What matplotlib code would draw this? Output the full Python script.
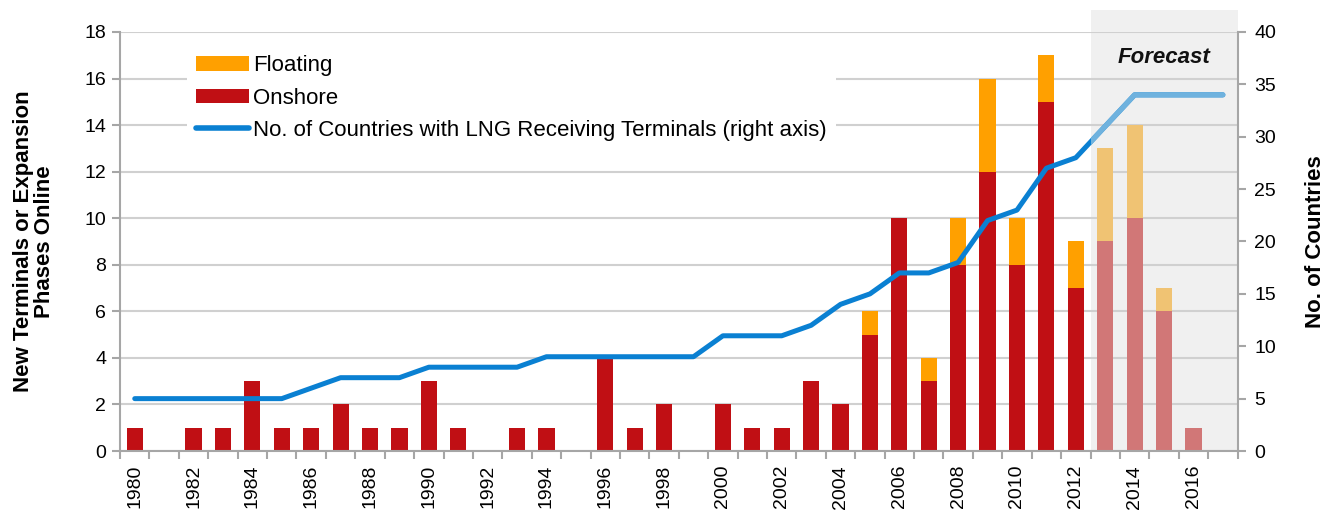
import numpy as np
import matplotlib.pyplot as plt
from matplotlib.patches import Rectangle, Patch
from matplotlib.lines import Line2D

plt.rcParams['font.family'] = ['Liberation Sans', 'DejaVu Sans']

# data
years = list(range(1980, 2018))
onshore = [1, 0, 1, 1, 3, 1, 1, 2, 1, 1, 3, 1, 0, 1, 1, 0, 4, 1, 2, 0,
           2, 1, 1, 3, 2, 5, 10, 3, 8, 12, 8, 15, 7, 9, 10, 6, 1, 0]
floating = [0, 0, 0, 0, 0, 0, 0, 0, 0, 0, 0, 0, 0, 0, 0, 0, 0, 0, 0, 0,
            0, 0, 0, 0, 0, 1, 0, 1, 2, 4, 2, 2, 2, 4, 4, 1, 0, 0]
countries = [5, 5, 5, 5, 5, 5, 6, 7, 7, 7, 8, 8, 8, 8, 9, 9, 9, 9, 9, 9,
             11, 11, 11, 12, 14, 15, 17, 17, 18, 22, 23, 27, 28, 31, 34, 34, 34, 34]
first_forecast = 2013

x = np.array(years)
forecast = x >= first_forecast
red, red_f = '#c00f14', '#d17777'
orange, orange_f = '#ffa000', '#f0c373'
blue, blue_f = '#0a80d2', '#6fb2de'
gridc = '#d0d0d0'
axc = '#a6a6a6'

fig = plt.figure(figsize=(13.25, 5.11), dpi=100)
ax = fig.add_axes([0.0906, 0.1174, 0.8434, 0.82])
ax2 = ax.twinx()

ax.set_xlim(years[0] - 0.5, years[-1] + 0.5)
ax.set_ylim(0, 18)
ax2.set_ylim(0, 40)

# forecast shading (reaches above the plot area)
x0 = first_forecast - 0.5
shade = Rectangle((x0, 0), years[-1] + 0.5 - x0, 18 * 1.052,
                  facecolor='#f0f0f0', edgecolor='none', zorder=0, clip_on=False)
ax.add_patch(shade)

ax.set_yticks(np.arange(0, 19, 2))
ax.yaxis.grid(True, color=gridc, lw=1.5)
ax.set_axisbelow(True)

w = 0.55
ax.bar(x, onshore, w, color=[red_f if f else red for f in forecast], zorder=2)
ax.bar(x, floating, w, bottom=onshore,
       color=[orange_f if f else orange for f in forecast], zorder=2)

ax.text(2015.0, 16.9, 'Forecast', fontsize=16, fontweight='bold', style='italic',
        ha='center', va='center', color='#111111', zorder=3)

# countries line, lighter in the forecast region
ax2.plot(x, countries, color=blue, lw=3.6, solid_capstyle='round', zorder=3)
lf, = ax2.plot(x, countries, color=blue_f, lw=3.8, solid_capstyle='round', zorder=4)
clip = Rectangle((x0, -5), 10, 60, transform=ax2.transData)
lf.set_clip_path(clip)

# axes styling
for a in (ax, ax2):
    a.spines['top'].set_visible(False)
    for s in ('left', 'right', 'bottom'):
        a.spines[s].set_color(axc)
        a.spines[s].set_linewidth(1.5)
ax.spines['right'].set_visible(False)
ax2.spines['left'].set_visible(False)
ax2.spines['bottom'].set_visible(False)

ax.set_xticks(x[::2])
ax.set_xticklabels([str(y) for y in years[::2]], rotation=90, fontsize=14)
ax.set_xticks(np.arange(years[0] - 0.5, years[-1] + 1.0, 1), minor=True)
ax.tick_params(axis='x', which='major', length=0, pad=10)
ax.tick_params(axis='x', which='minor', length=6, width=1.5, color=axc)
ax.tick_params(axis='y', length=6, width=1.5, color=axc, labelsize=14, pad=4)
ax2.set_yticks(np.arange(0, 41, 5))
ax2.tick_params(axis='y', length=6, width=1.5, color=axc, labelsize=14, pad=6)

ax.set_ylabel('New Terminals or Expansion\nPhases Online', fontsize=16,
              fontweight='bold', labelpad=21, linespacing=1.0)
ax2.set_ylabel('No. of Countries', fontsize=16, fontweight='bold', labelpad=21)

handles = [Patch(facecolor=orange), Patch(facecolor=red),
           Line2D([], [], color=blue, lw=4, solid_capstyle='round')]
labels = ['Floating', 'Onshore', 'No. of Countries with LNG Receiving Terminals (right axis)']
leg = ax2.legend(handles, labels, loc='upper left', bbox_to_anchor=(0.050, 0.992),
                 fontsize=16, frameon=True, facecolor='white', edgecolor='none',
                 framealpha=1, fancybox=False, handlelength=2.4, handleheight=0.63,
                 handletextpad=0.18, labelspacing=0.51, borderpad=0.4)
leg.set_zorder(5)

fig.savefig('out.png', dpi=100)
